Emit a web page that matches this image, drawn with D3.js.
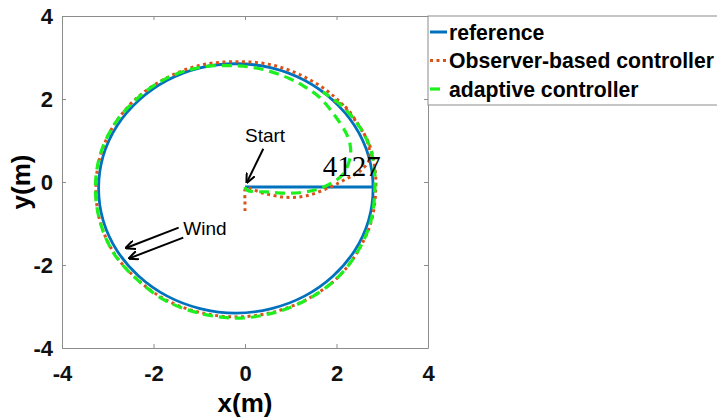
<!DOCTYPE html>
<html><head><meta charset="utf-8">
<script src="https://cdn.jsdelivr.net/npm/d3@7"></script>
<style>body{margin:0;background:#fff}svg{display:block}</style>
</head><body>
<script>
const xTicks = [-4, -2, 0, 2, 4];
const yTicks = [-4, -2, 0, 2, 4];
const seriesNames = ["reference", "Observer-based controller", "adaptive controller"];

// reference: straight start segment then circle
const refLine = [[0, -0.12], [2.8, -0.12]];
const refCircle = [[2.80,-0.15],[2.70,0.63],[2.40,1.35],[1.92,1.97],[1.30,2.45],[0.58,2.75],[-0.20,2.85],[-0.98,2.75],[-1.70,2.45],[-2.32,1.97],[-2.80,1.35],[-3.10,0.63],[-3.20,-0.15],[-3.10,-0.93],[-2.80,-1.65],[-2.32,-2.27],[-1.70,-2.75],[-0.98,-3.05],[-0.20,-3.16],[0.58,-3.05],[1.30,-2.75],[1.92,-2.27],[2.40,-1.65],[2.70,-0.93]];

const observer = [[0,-0.7],[0,-0.45],[0.02,-0.15],[0.4,-0.27],[0.9,-0.37],[1.35,-0.33],[1.85,-0.13],[2.22,0.08],[2.5,0.25],[2.72,0.55],[2.68,0.95],[2.46,1.40],[1.98,2.03],[1.34,2.51],[0.59,2.82],[-0.2,2.9],[-0.99,2.81],[-1.73,2.50],[-2.37,2.02],[-2.86,1.38],[-3.16,0.64],[-3.26,-0.15],[-3.17,-0.94],[-2.87,-1.70],[-2.38,-2.32],[-1.75,-2.83],[-1.0,-3.14],[-0.2,-3.25],[0.6,-3.14],[1.35,-2.83],[1.99,-2.34],[2.45,-1.70],[2.76,-0.95],[2.86,-0.15],[2.83,0.40],[2.72,0.90],[2.47,1.40],[2.15,1.85],[1.86,1.98]];

const adaptive = [[0,-0.12],[0.05,-0.2],[0.5,-0.24],[1.0,-0.27],[1.5,-0.2],[1.9,-0.02],[2.15,0.2],[2.3,0.6],[2.29,0.95],[2.2,1.2],[1.93,1.65],[1.64,2.03],[1.3,2.3],[0.98,2.49],[0.4,2.71],[-0.2,2.8],[-0.99,2.76],[-1.73,2.49],[-2.36,2.01],[-2.86,1.38],[-3.17,0.64],[-3.27,-0.15],[-3.17,-0.95],[-2.88,-1.70],[-2.38,-2.33],[-1.75,-2.85],[-1.0,-3.16],[-0.2,-3.28],[0.6,-3.16],[1.35,-2.84],[1.99,-2.34],[2.45,-1.70],[2.75,-0.95],[2.84,-0.15],[2.82,0.40],[2.71,0.90],[2.46,1.40],[2.1,1.85],[1.7,2.17]];

const annotations = [
  {text: "Start", x: 0.0, y: 0.97, size: 19, family: "Liberation Sans, Arial, sans-serif"},
  {text: "Wind", x: -1.35, y: -1.27, size: 19, family: "Liberation Sans, Arial, sans-serif"},
  {text: "4127", x: 1.70, y: 0.14, size: 29, family: "Liberation Serif, Times New Roman, serif"}
];
const arrows = [
  {x1: 0.40, y1: 0.80, x2: 0.04, y2: -0.01},
  {x1: -1.45, y1: -1.10, x2: -2.60, y2: -1.59},
  {x1: -1.35, y1: -1.34, x2: -2.53, y2: -1.84}
];

const W = 717, H = 420;
const svg = d3.select("body").append("svg").attr("width", W).attr("height", H);
const x = d3.scaleLinear().domain([-4, 4]).range([62, 428]);
const y = d3.scaleLinear().domain([-4, 4]).range([348, 16]);
const frame = "#8c8c8c";
const fontB = "Liberation Sans, Arial, sans-serif";
const fmt = d => String(d);

svg.append("defs").append("marker").attr("id", "ah").attr("viewBox", "0 0 10 10")
  .attr("refX", 9).attr("refY", 5).attr("markerWidth", 10).attr("markerHeight", 10)
  .attr("markerUnits", "userSpaceOnUse").attr("orient", "auto")
  .append("path").attr("d", "M0,0.5 L10,5 L0,9.5").attr("fill", "none").attr("stroke", "#000").attr("stroke-width", 2);

// axes
function styleAxis(g) {
  g.selectAll(".domain").attr("stroke", frame).attr("stroke-width", 1);
  g.selectAll(".tick line").attr("stroke", frame);
  g.selectAll("text").attr("font-family", fontB).attr("font-weight", "bold").attr("font-size", 22).attr("fill", "#111");
}
svg.append("g").attr("transform", `translate(0,${y(-4)})`)
  .call(d3.axisBottom(x).tickValues(xTicks).tickSizeInner(-4).tickSizeOuter(0).tickPadding(17).tickFormat(fmt))
  .call(styleAxis);
svg.append("g").attr("transform", `translate(${x(-4)},0)`)
  .call(d3.axisLeft(y).tickValues(yTicks).tickSizeInner(-4).tickSizeOuter(0).tickPadding(9).tickFormat(fmt))
  .call(styleAxis);
svg.append("g").attr("transform", `translate(0,${y(4)})`)
  .call(d3.axisTop(x).tickValues(xTicks).tickSizeInner(-4).tickSizeOuter(0).tickFormat(""))
  .call(styleAxis);
svg.append("g").attr("transform", `translate(${x(4)},0)`)
  .call(d3.axisRight(y).tickValues(yTicks).tickSizeInner(-4).tickSizeOuter(0).tickFormat(""))
  .call(styleAxis);

// axis titles
svg.append("text").attr("x", x(0)).attr("y", 412).attr("text-anchor", "middle")
  .attr("font-family", fontB).attr("font-weight", "bold").attr("font-size", 26).text("x(m)");
svg.append("text").attr("transform", `translate(30,${y(0)}) rotate(-90)`).attr("text-anchor", "middle")
  .attr("font-family", fontB).attr("font-weight", "bold").attr("font-size", 26).text("y(m)");

const line = d3.line().x(d => x(d[0])).y(d => y(d[1])).curve(d3.curveCatmullRom.alpha(0.5));
const lineLin = d3.line().x(d => x(d[0])).y(d => y(d[1]));
const lineClosed = d3.line().x(d => x(d[0])).y(d => y(d[1])).curve(d3.curveCatmullRomClosed.alpha(0.5));

const blue = "#0072BD", red = "#D95319", green = "#1EF01E";
const plot = svg.append("g");
plot.append("path").attr("d", lineClosed(refCircle)).attr("fill", "none").attr("stroke", blue).attr("stroke-width", 2.8);
plot.append("path").attr("d", lineLin(refLine)).attr("fill", "none").attr("stroke", blue).attr("stroke-width", 2.8);
plot.append("path").attr("d", line(observer)).attr("fill", "none").attr("stroke", red).attr("stroke-width", 3)
  .attr("stroke-dasharray", "3,3.5");
plot.append("path").attr("d", line(adaptive)).attr("fill", "none").attr("stroke", green).attr("stroke-width", 3.2)
  .attr("stroke-dasharray", "10,6");

// annotations
annotations.forEach(a => {
  svg.append("text").attr("x", x(a.x)).attr("y", y(a.y)).attr("font-family", a.family)
    .attr("font-size", a.size).attr("fill", "#000").text(a.text);
});
arrows.forEach(a => {
  svg.append("line").attr("x1", x(a.x1)).attr("y1", y(a.y1)).attr("x2", x(a.x2)).attr("y2", y(a.y2))
    .attr("stroke", "#000").attr("stroke-width", 2).attr("marker-end", "url(#ah)");
});

// legend
const lg = svg.append("g");
lg.append("rect").attr("x", 428).attr("y", 16).attr("width", 320).attr("height", 89)
  .attr("fill", "#fff").attr("stroke", frame).attr("stroke-width", 1);
const styles = [
  {c: blue, dash: null, w: 3, x2: 447},
  {c: red, dash: "3,3.5", w: 3, x2: 447},
  {c: green, dash: "10,6", w: 3.2, x2: 446}
];
seriesNames.forEach((n, i) => {
  const cy = 32 + i * 28.5;
  lg.append("line").attr("x1", 430).attr("x2", styles[i].x2).attr("y1", cy).attr("y2", cy)
    .attr("stroke", styles[i].c).attr("stroke-width", styles[i].w)
    .attr("stroke-dasharray", styles[i].dash);
  lg.append("text").attr("x", 449).attr("y", cy + 7.5).attr("font-family", fontB)
    .attr("font-weight", "bold").attr("font-size", 21.2).attr("fill", "#000").text(n);
});
</script>
</body></html>
